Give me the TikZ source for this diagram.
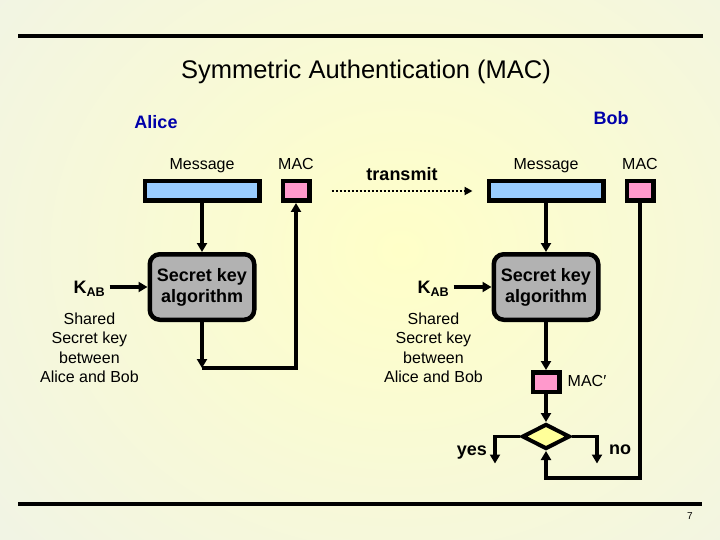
\documentclass[tikz,border=0pt]{standalone}
\usepackage{fontspec}
\setmainfont{Liberation Sans}
\usetikzlibrary{arrows.meta, positioning, quotes, shapes.geometric}
\definecolor{msgblue}{RGB}{153,204,255}
\definecolor{macpink}{RGB}{255,153,204}
\definecolor{alggray}{RGB}{178,178,178}
\definecolor{chkyellow}{RGB}{255,255,153}
\definecolor{namblue}{RGB}{0,0,170}
\definecolor{bgout}{RGB}{236,240,238}
\definecolor{bgin}{RGB}{255,255,200}

\begin{document}
\begin{tikzpicture}[
	x=1pt, y=-1pt,
	node distance=49pt and 19pt,
	msg/.style = {draw, line width=4.5pt, fill=msgblue, minimum width=114.5pt, minimum height=19.5pt, inner sep=0pt},
	mac/.style = {draw, line width=4.5pt, fill=macpink, minimum width=26.5pt, minimum height=19.5pt, inner sep=0pt},
	alg/.style = {draw, line width=4.5pt, fill=alggray, rounded corners=10pt, minimum width=104.5pt, minimum height=65.5pt, align=center, font=\fontsize{18}{21}\selectfont\bfseries},
	chk/.style = {draw, line width=4pt, fill=chkyellow, diamond, minimum width=48pt, minimum height=25pt, inner sep=0pt},
	lbl/.style = {font=\fontsize{16}{19}\selectfont, inner sep=1pt, text height=12pt, text depth=4pt},
	bl/.style  = {font=\fontsize{18}{21}\selectfont\bfseries, inner sep=1pt},
	kab/.style = {bl, inner xsep=4pt, text height=13pt, text depth=0pt},
	shr/.style = {font=\fontsize{16}{19.3}\selectfont, align=center, inner sep=0pt},
	who/.style = {bl, text=namblue},
	arr/.style = {line width=3.5pt, -{Triangle[length=9pt,width=10pt]}},
	tr/.style  = {line width=2.5pt, dash pattern=on 2.5pt off 1.5pt, -{Triangle[length=8pt,width=8pt]}},
	sx+/.style = {xshift= 20pt},
	sx-/.style = {xshift=-14pt},
	every edge quotes/.style = {bl, above=8pt}
     ]
	\useasboundingbox (0,0) rectangle (720,540);
	\fill[bgout] (0,0) rectangle (720,540);
	\shade[inner color=bgin, outer color=bgout] (-300,-350) rectangle (1100,850);
	\draw[line width=3.5pt] (18,36) -- (703,36);
	\draw[line width=3.5pt] (18,504) -- (702,504);
%
		\node[font=\fontsize{25.5}{30}\selectfont] (title) at (366,72) {Symmetric Authentication (MAC)};
		\node[who] (alice) at (156,122) {Alice};
		\node[who] (bob) at (611,118) {Bob};
		\node[font=\fontsize{10}{12}\selectfont] (pg) at (690,516) {7};
% Alice
		\node[msg] (msgA) at (202,191) {};
		\node[mac, right=of msgA] (macA) {};
		\node[alg, below=of msgA] (algA) {Secret key\\algorithm};
		\node[lbl, above=4pt of msgA] (msgAl) {Message};
		\node[lbl, above=4pt of macA] (macAl) {MAC};
		\node[kab, left=38pt of algA] (kA) {K\textsubscript{AB}};
		\node[shr, below=18pt of kA] (shA) {Shared\\Secret key\\between\\Alice and Bob};
%
		\draw[arr] (msgA) -- (algA);
		\draw[arr] (kA) -- (algA);
		\draw[arr] (algA.south) -- ++(0,46) coordinate (jA);
		\draw[arr] (jA) -| (macA.south);
% Bob
		\node[msg] (msgB) at (546,191) {};
		\node[mac, right=of msgB] (macB) {};
		\node[alg, below=of msgB] (algB) {Secret key\\algorithm};
		\node[lbl, above=4pt of msgB] (msgBl) {Message};
		\node[lbl, above=4pt of macB] (macBl) {MAC};
		\node[kab, left=38pt of algB] (kB) {K\textsubscript{AB}};
		\node[shr, below=18pt of kB] (shB) {Shared\\Secret key\\between\\Alice and Bob};
		\node[mac, below=48pt of algB] (macP) {};
		\node[lbl, right=5pt of macP] (macPl) {MAC′};
		\node[chk, below=28pt of macP] (chk) {};
		\coordinate[below left=27pt and 25pt of chk.west] (yesE);
		\coordinate[below right=27pt and 25pt of chk.east] (noE);
		\node[bl, anchor=east] (yesl) at ([xshift=-7pt, yshift=11pt] yesE) {yes};
		\node[bl, anchor=west] (nol) at ([xshift=11pt, yshift=13.5pt] noE) {no};
%
		\draw[tr] ([sx+] macA.east) to ["transmit"] ([sx-] msgB.west);
%
		\draw[arr] (msgB) -- (algB);
		\draw[arr] (kB) -- (algB);
		\draw[arr] (algB) -- (macP);
		\draw[arr] (macP) -- (chk);
		\draw[arr] (chk.west) -| (yesE);
		\draw[arr] (chk.east) -| (noE);
		\draw[arr] (macB.south) |- ([yshift=-27pt] chk.south) -- (chk.south);
\end{tikzpicture}
\end{document}
